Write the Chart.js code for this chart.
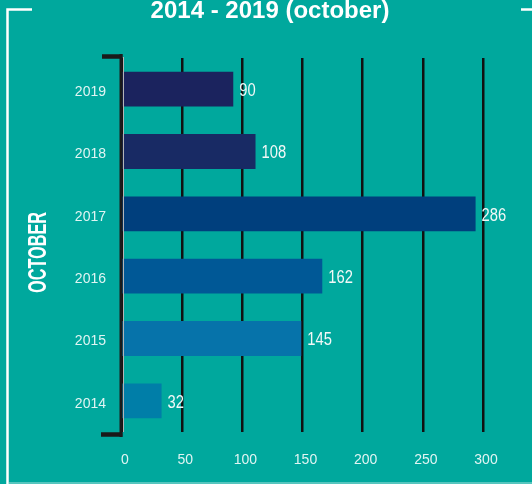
<!DOCTYPE html>
<html>
<head>
<meta charset="utf-8">
<script src="https://cdn.jsdelivr.net/npm/chart.js@4"></script>
<style>
  html, body { margin: 0; padding: 0; background: #00a89d; }
  canvas { display: block; }
</style>
</head>
<body>
<canvas id="grafico" width="532" height="484"></canvas>
<script>
// dados
const years = ['2014', '2015', '2016', '2017', '2018', '2019'];
const octoberValues = [32, 145, 162, 286, 108, 90];
const barColors = ['#007ea8', '#0673aa', '#005896', '#003f7d', '#182a64', '#1b235e'];
const gridTicks = [0, 50, 100, 150, 200, 250, 300];

const chartTitle = '2014 - 2019 (october)';
const sideTitle = 'OCTOBER';

const sans = '"Liberation Sans", Arial, sans-serif';

// fundo, moldura, títulos e o "colchete" do eixo
const decor = {
  id: 'decor',
  beforeDraw(chart) {
    const ctx = chart.ctx;
    ctx.save();
    ctx.fillStyle = '#00a89d';
    ctx.fillRect(0, 0, chart.width, chart.height);

    ctx.strokeStyle = '#ffffff';
    ctx.lineWidth = 2.5;
    ctx.beginPath();
    ctx.moveTo(32, 9.5);
    ctx.lineTo(7.5, 9.5);
    ctx.lineTo(7.5, 484);
    ctx.moveTo(521, 9.5);
    ctx.lineTo(532, 9.5);
    ctx.stroke();

    ctx.strokeStyle = 'rgba(255,255,255,0.45)';
    ctx.lineWidth = 1.5;
    ctx.beginPath();
    ctx.moveTo(9, 483);
    ctx.lineTo(532, 483);
    ctx.stroke();

    ctx.fillStyle = '#ffffff';
    ctx.font = 'bold 24px ' + sans;
    ctx.textAlign = 'center';
    ctx.textBaseline = 'alphabetic';
    ctx.fillText(chartTitle, 270, 17.7);

    // texto lateral, condensado
    ctx.translate(38, 252.5);
    ctx.rotate(-Math.PI / 2);
    ctx.scale(0.65, 1);
    ctx.font = 'bold 25px ' + sans;
    ctx.textBaseline = 'middle';
    ctx.fillText(sideTitle, 0, 1);
    ctx.restore();
  },
  afterDatasetsDraw(chart) {
    const ctx = chart.ctx;
    const area = chart.chartArea;
    const meta = chart.getDatasetMeta(0);
    ctx.save();
    // rótulos de valor
    ctx.fillStyle = '#f2f8f7';
    ctx.font = '18px ' + sans;
    ctx.textAlign = 'left';
    ctx.textBaseline = 'middle';
    meta.data.forEach((bar, i) => {
      ctx.save();
      ctx.translate(bar.x + 6, bar.y + 2);
      ctx.scale(0.82, 1);
      ctx.fillText(octoberValues[i], 0, 0);
      ctx.restore();
    });

    // linha cinza fina
    ctx.strokeStyle = '#b5b5b5';
    ctx.lineWidth = 1;
    ctx.beginPath();
    ctx.moveTo(area.left + 1.5, area.top - 1);
    ctx.lineTo(area.left + 1.5, area.bottom);
    ctx.stroke();

    // colchete preto
    ctx.strokeStyle = '#1a1a1a';
    ctx.lineWidth = 3;
    ctx.beginPath();
    ctx.moveTo(area.left - 1, area.top - 4);
    ctx.lineTo(area.left - 1, area.bottom + 5);
    ctx.stroke();
    ctx.lineWidth = 4.5;
    ctx.beginPath();
    ctx.moveTo(area.left - 20, area.top - 1.5);
    ctx.lineTo(area.left + 0.5, area.top - 1.5);
    ctx.moveTo(area.left - 21, area.bottom + 2.5);
    ctx.lineTo(area.left + 0.5, area.bottom + 2.5);
    ctx.stroke();
    ctx.restore();
  }
};

new Chart(document.getElementById('grafico'), {
  type: 'bar',
  data: {
    labels: years,
    datasets: [{
      label: 'October',
      data: octoberValues,
      backgroundColor: barColors,
      barPercentage: 0.56,
      categoryPercentage: 1,
      xAxisID: 'x',
      yAxisID: 'y'
    }]
  },
  options: {
    indexAxis: 'y',
    responsive: false,
    animation: false,
    layout: { padding: { top: 58, right: 49, left: 0, bottom: 0 } },
    plugins: {
      legend: { display: false },
      title: { display: false },
      tooltip: { enabled: false }
    },
    scales: {
      // escala das barras (escondida)
      x: {
        type: 'linear',
        display: false,
        min: 0,
        max: 292
      },
      // escala da grade e dos rótulos
      x2: {
        type: 'linear',
        axis: 'x',
        position: 'bottom',
        min: gridTicks[0],
        max: gridTicks[gridTicks.length - 1],
        afterBuildTicks(scale) {
          scale.ticks = gridTicks.map(v => ({ value: v }));
        },
        afterFit(scale) { scale.height = 52; },
        grid: { color: '#111111', lineWidth: 2.5, drawTicks: false },
        border: { display: false },
        ticks: {
          color: 'rgba(255,255,255,0.88)',
          font: { family: sans, size: 14 },
          padding: 20,
          labelOffset: 3,
          maxRotation: 0
        }
      },
      y: {
        reverse: true,
        afterFit(scale) { scale.width = 122; },
        grid: { display: false, drawTicks: false },
        border: { display: false },
        ticks: {
          color: 'rgba(255,255,255,0.88)',
          font: { family: sans, size: 14 },
          padding: 16,
          labelOffset: 3
        }
      }
    }
  },
  plugins: [decor]
});
</script>
</body>
</html>
